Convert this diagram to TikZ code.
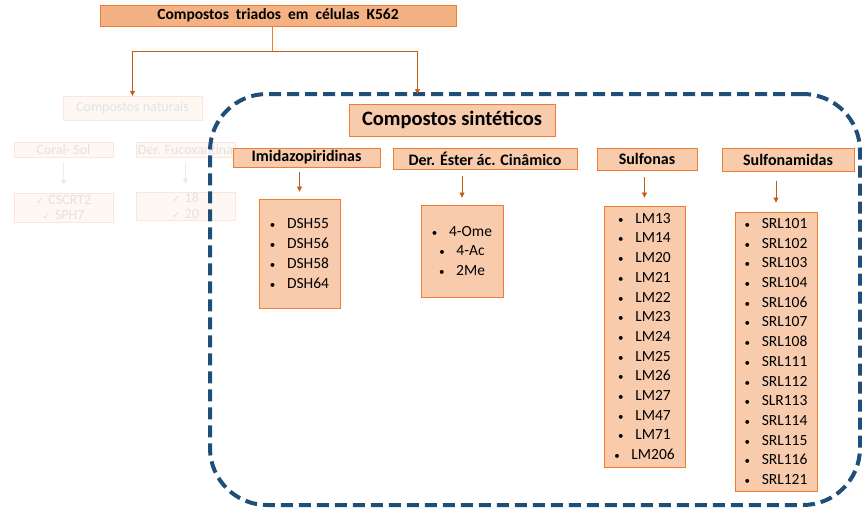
\documentclass[tikz,border=0pt]{standalone}
\usepackage{fontspec}
\setmainfont{Carlito}
\newfontfamily\symfont{DejaVu Sans}
\usetikzlibrary{arrows.meta,positioning,calc}
\definecolor{Peach}{HTML}{F8CBAD}
\definecolor{Salmon}{HTML}{F4B183}
\definecolor{Rust}{HTML}{ED7D31}
\definecolor{Brick}{HTML}{C55A11}
\definecolor{Navy}{HTML}{1F4E79}
\definecolor{Ghost}{HTML}{FEF8F4}
\definecolor{GhostLine}{HTML}{FBE6D9}
\definecolor{GhostText}{HTML}{E2E2E2}
\newcommand\bul{{\fontsize{11}{12}\selectfont\textbullet}\hspace{0.75em}}
\newcommand\chk{{\symfont\fontsize{10}{12}\selectfont ✓}\hspace{0.3em}}

\begin{document}
\begin{tikzpicture}[x=1pt,y=-1pt,
    box/.style={draw=Rust,fill=Peach,line width=0.8pt,inner sep=0pt},
    head/.style={box,font=\bfseries\fontsize{16}{18}\selectfont},
    list/.style={box,align=center,font=\fontsize{15.5}{19.7}\selectfont},
    ghost/.style={draw=GhostLine,fill=Ghost,text=GhostText,inner sep=0pt,
      align=center,font=\fontsize{14}{19}\selectfont},
    arr/.style={-{Triangle[length=5pt,width=5pt]},Brick,line width=0.6pt},
    ghostarr/.style={-{Triangle[length=5pt,width=5pt]},GhostLine,line width=0.6pt},
    frame/.style={draw=Navy,line width=4pt,dash pattern=on 12pt off 6pt,
      rounded corners=57pt,inner sep=0pt}
  ]
    \useasboundingbox (0,0) rectangle (862,509);
    \node[box,fill=Salmon,minimum width=356,minimum height=21,
      font=\bfseries\fontsize{15.5}{17}\selectfont] (top) at (278,15.5)
      {Compostos\ \ triados\ \ em\ \ células\ \ K562};
    % natural compounds (faded)
    \node[ghost,minimum width=139,minimum height=24] (nat) at (132.5,108) {Compostos naturais};
    \node[ghost,minimum width=99,minimum height=15] (coral) at (63.5,149.5) {Coral- Sol};
    \node[ghost,minimum width=99,minimum height=15] (fuco) at (185.5,149.5) {Der. Fucoxantina};
    \node[ghost,minimum width=99,minimum height=29,font=\fontsize{14}{16}\selectfont] (coralL) at (63.5,207.5)
      {\chk CSCRT2\\\chk SPH7};
    \node[ghost,minimum width=99,minimum height=28,font=\fontsize{14}{16}\selectfont] (fucoL) at (185.5,206)
      {\chk 18\\\chk 20};
    \draw[ghostarr,shorten <=5pt,shorten >=8pt] (coral) -- (coralL);
    \draw[ghostarr,shorten <=5pt,shorten >=8pt] (fuco) -- (fucoL);
    % synthetic compounds
    \node[frame,minimum width=650,minimum height=411] (frame) at (535,299.5) {};
    \coordinate (frameIn) at (417.5,94);
    \coordinate (split) at (272,51.5);
    \draw[Rust,line width=0.6pt] (top.south -| split) -- (split);
    \draw[arr] (split) -| (nat.north);
    \draw[arr] (split) -| (frameIn);
    \node[box,minimum width=206,minimum height=32,
      font=\bfseries\fontsize{20.5}{24}\selectfont] (sint) at (452,120) {Compostos sintéticos};
    \node[head,minimum width=147,minimum height=19] (imid) at (306.5,157.5) {Imidazopiridinas};
    \node[head,minimum width=184,minimum height=21] (ester) at (485,158.5) {Der. Éster ác. Cinâmico};
    \node[head,minimum width=100,minimum height=22] (sulf) at (647,159) {Sulfonas};
    \node[head,minimum width=132,minimum height=23] (samid) at (788,159.5) {Sulfonamidas};
    \node[list,minimum width=81,minimum height=109] (dsh) at (299.5,253.5)
      {\bul DSH55\\\bul DSH56\\\bul DSH58\\\bul DSH64};
    \node[list,minimum width=82,minimum height=92] (ome) at (462,251)
      {\bul 4-Ome\\\bul 4-Ac\\\bul 2Me};
    \node[list,minimum width=81,minimum height=261] (lm) at (644.5,336.5)
      {\bul LM13\\\bul LM14\\\bul LM20\\\bul LM21\\\bul LM22\\\bul LM23\\\bul LM24\\
       \bul LM25\\\bul LM26\\\bul LM27\\\bul LM47\\\bul LM71\\\bul LM206};
    \node[list,minimum width=82,minimum height=279] (srl) at (776,351.5)
      {\bul SRL101\\\bul SRL102\\\bul SRL103\\\bul SRL104\\\bul SRL106\\\bul SRL107\\\bul SRL108\\
       \bul SRL111\\\bul SRL112\\\bul SLR113\\\bul SRL114\\\bul SRL115\\\bul SRL116\\\bul SRL121};
    \draw[arr,shorten <=5pt,shorten >=7pt] (dsh.north |- imid.south) -- (dsh.north);
    \draw[arr,shorten <=7pt,shorten >=7pt] (ome.north |- ester.south) -- (ome.north);
    \draw[arr,shorten <=7pt,shorten >=8pt] (lm.north |- sulf.south) -- (lm.north);
    \draw[arr,shorten <=10pt,shorten >=9pt] (srl.north |- samid.south) -- (srl.north);
  \end{tikzpicture}
\end{document}
